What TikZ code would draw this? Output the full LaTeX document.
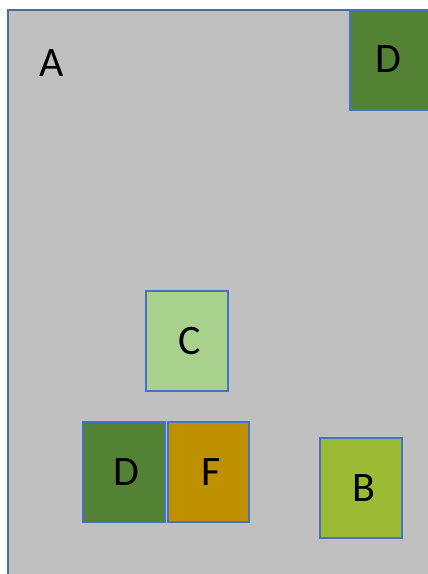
\documentclass[tikz,border=0pt]{standalone}
\usepackage{fontspec}
\setmainfont{Carlito}
\definecolor{areagray}{HTML}{C0C0C0}
\definecolor{areaedge}{HTML}{41719C}
\definecolor{boxedge}{HTML}{4472C4}
\definecolor{darkgreen}{HTML}{548235}
\definecolor{lightgreen}{HTML}{A9D18E}
\definecolor{goldbox}{HTML}{BF9000}
\definecolor{limebox}{HTML}{9BBB35}
\begin{document}
\begin{tikzpicture}[x=1pt,y=-1pt,tile/.style={draw=boxedge,line width=1.8pt,minimum width=82pt,minimum height=100pt,inner sep=0pt,font=\fontsize{42}{48}\selectfont}]
\useasboundingbox (0,0) rectangle (428,574);
\clip (0,0) rectangle (428,574);

\fill[areagray,draw=areaedge,line width=2pt] (8,10) rectangle (440,590);
\node[font=\fontsize{42}{48}\selectfont] (a) at (52,63) {A};

\node[tile,fill=darkgreen,label={[font=\fontsize{42}{48}\selectfont,xshift=-3pt,yshift=1pt]center:D}] (dtop) at (391,60) {};
\node[tile,fill=lightgreen] (c) at (187,341) {\hspace{5pt}C};
\node[tile,fill=darkgreen] (dbot) at (124,472) {\hspace{5pt}D};
\node[tile,fill=goldbox,minimum width=81pt] (f) at (208.5,472) {\hspace{5pt}F};
\node[tile,fill=limebox] (b) at (361,488) {\hspace{5pt}B};
\end{tikzpicture}
\end{document}
